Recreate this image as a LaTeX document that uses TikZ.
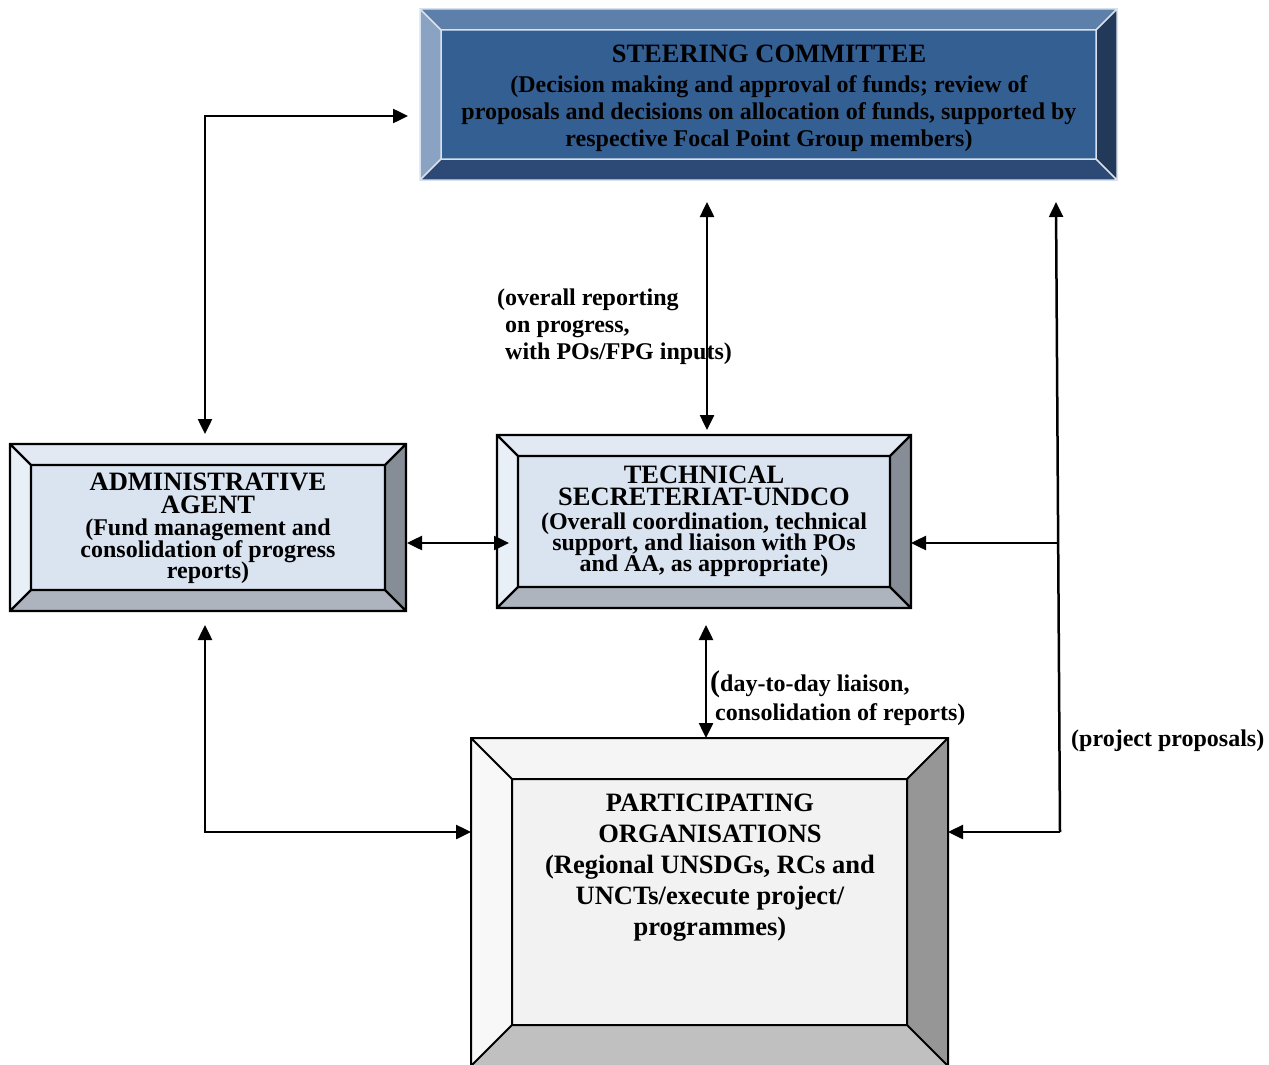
\documentclass[tikz,border=0pt]{standalone}
\usepackage{fontspec}
\setmainfont{Liberation Serif}
\usetikzlibrary{arrows.meta,calc}
\definecolor{scL}{HTML}{8BA3C2}
\definecolor{scT}{HTML}{5D80AB}
\definecolor{scF}{HTML}{345F92}
\definecolor{scR}{HTML}{22395A}
\definecolor{scB}{HTML}{2C4A75}
\definecolor{scLine}{HTML}{D8E2EE}
\definecolor{lbL}{HTML}{E9EFF7}
\definecolor{lbT}{HTML}{E2E9F3}
\definecolor{lbF}{HTML}{DAE3F0}
\definecolor{lbR}{HTML}{868D96}
\definecolor{lbB}{HTML}{ADB4BD}
\definecolor{gyL}{HTML}{F8F8F8}
\definecolor{gyT}{HTML}{F5F5F5}
\definecolor{gyF}{HTML}{F2F2F2}
\definecolor{gyR}{HTML}{969696}
\definecolor{gyB}{HTML}{C0C0C0}
\newcommand\Tf{\fontsize{26.5pt}{21.5pt}\selectfont}
\newcommand\Bf{\fontsize{24pt}{21.5pt}\selectfont}
\newcommand\tightls{\lineskiplimit-30pt\relax}
\newcommand\bevelbox[8]{%
  \coordinate (#1iNW) at ($(#1.north west)+(#2,#2)$);
  \coordinate (#1iNE) at ($(#1.north east)+(-#2,#2)$);
  \coordinate (#1iSE) at ($(#1.south east)+(-#2,-#2)$);
  \coordinate (#1iSW) at ($(#1.south west)+(#2,-#2)$);
  \fill[#3] (#1.south west) -- (#1.north west) -- (#1iNW) -- (#1iSW) -- cycle;
  \fill[#4] (#1.north west) -- (#1.north east) -- (#1iNE) -- (#1iNW) -- cycle;
  \fill[#5] (#1.north east) -- (#1.south east) -- (#1iSE) -- (#1iNE) -- cycle;
  \fill[#6] (#1.south east) -- (#1.south west) -- (#1iSW) -- (#1iSE) -- cycle;
  \fill[#7] (#1iNW) rectangle (#1iSE);
  \draw[#8] (#1.north west) rectangle (#1.south east) (#1iNW) rectangle (#1iSE)
     (#1.north west) -- (#1iNW) (#1.north east) -- (#1iNE)
     (#1.south east) -- (#1iSE) (#1.south west) -- (#1iSW);
}
\tikzset{
  boxnode/.style={draw=none, inner sep=0pt, outer sep=0pt, rectangle},
  boxtext/.style={inner sep=0pt, align=center},
  lbl/.style={inner sep=0pt, align=left, anchor=west, font=\bfseries\fontsize{24pt}{27pt}\selectfont},
  conn/.style={line width=2.5pt, line join=miter},
  both/.style={conn, {Triangle[length=15pt,width=14pt]}-{Triangle[length=15pt,width=14pt]}},
  one/.style={conn, -{Triangle[length=15pt,width=14pt]}}
}
\begin{document}
\begin{tikzpicture}[x=1pt,y=-1pt]
\useasboundingbox (0,0) rectangle (1269,1065);
% boxes
\node[boxnode, minimum width=697pt, minimum height=171pt] (sc) at (768.5,94.5) {};
\node[boxnode, minimum width=396pt, minimum height=167pt] (adm) at (208,527.5) {};
\node[boxnode, minimum width=414pt, minimum height=173pt] (ts) at (704,521.5) {};
\node[boxnode, minimum width=477pt, minimum height=328pt] (po) at (709.5,902) {};
\bevelbox{sc}{21}{scL}{scT}{scR}{scB}{scF}{scLine, line width=1.5pt}
\bevelbox{adm}{21}{lbL}{lbT}{lbR}{lbB}{lbF}{black, line width=2.2pt}
\bevelbox{ts}{21}{lbL}{lbT}{lbR}{lbB}{lbF}{black, line width=2.2pt}
\bevelbox{po}{41}{gyL}{gyT}{gyR}{gyB}{gyF}{black, line width=2pt}
% texts
\node[boxtext, font=\bfseries\fontsize{24pt}{27pt}\selectfont\tightls] (sct) at (769,98.5)
 {\fontsize{26.5pt}{27pt}\selectfont STEERING COMMITTEE\\[3pt]
  (Decision making and approval of funds; review of\\
  proposals and decisions on allocation of funds, supported by\\
  respective Focal Point Group members)};
\node[boxtext, font=\bfseries\fontsize{24pt}{21.5pt}\selectfont\tightls] (admt) at (208,528.5)
 {\Tf ADMINISTRATIVE\\[1.5pt] \Tf AGENT\\[0.5pt] \Bf (Fund management and\\ \Bf consolidation of progress\\ \Bf reports)};
\node[boxtext, font=\bfseries\fontsize{24pt}{21pt}\selectfont\tightls] (tst) at (704,521)
 {\Tf TECHNICAL\\[1pt] \Tf SECRETERIAT-UNDCO\\[3pt] \Bf (Overall coordination, technical\\ \Bf support, and liaison with POs\\ \Bf and AA, as appropriate)};
\node[boxtext, font=\bfseries\fontsize{26.5pt}{31pt}\selectfont] (pot) at (710,867.5)
 {PARTICIPATING\\ ORGANISATIONS\\ (Regional UNSDGs, RCs and\\ UNCTs/execute project/\\ programmes)};
% connector coordinates
\coordinate (a1) at (205,434);
\coordinate (a2) at (408,116);
\coordinate (b1) at (707,202);
\coordinate (b2) at (707,430);
\coordinate (c1) at (407,543);
\coordinate (c2) at (509,543);
\coordinate (d1) at (706,625);
\coordinate (d2) at (706,738);
\coordinate (e1) at (205,625);
\coordinate (e2) at (471,832);
\coordinate (r1) at (1060,832);
\coordinate (r2) at (1057,543);
\coordinate (r3) at (1056,202);
\coordinate (r4) at (911,543);
\coordinate (r5) at (948,832);
% connectors
\draw[both] (a1) |- (a2);
\draw[both] (b1) -- (b2);
\draw[both] (c1) -- (c2);
\draw[both] (d1) -- (d2);
\draw[both] (e1) |- (e2);
\draw[one] (r1) -- (r3);
\draw[one] (r2) -- (r4);
\draw[one] (r1) -- (r5);
% labels
\node[lbl] (l1) at (497,327) {(overall reporting\\\hspace*{8pt}on progress,\\\hspace*{8pt}with POs/FPG inputs)};
\node[lbl, font=\bfseries\fontsize{24pt}{29pt}\selectfont] (l2) at (710,698) {{\fontsize{30pt}{29pt}\selectfont(}day-to-day liaison,\\\hspace*{5pt}consolidation of reports)};
\node[lbl] (l3) at (1071,741) {(project proposals)};
\end{tikzpicture}
\end{document}
